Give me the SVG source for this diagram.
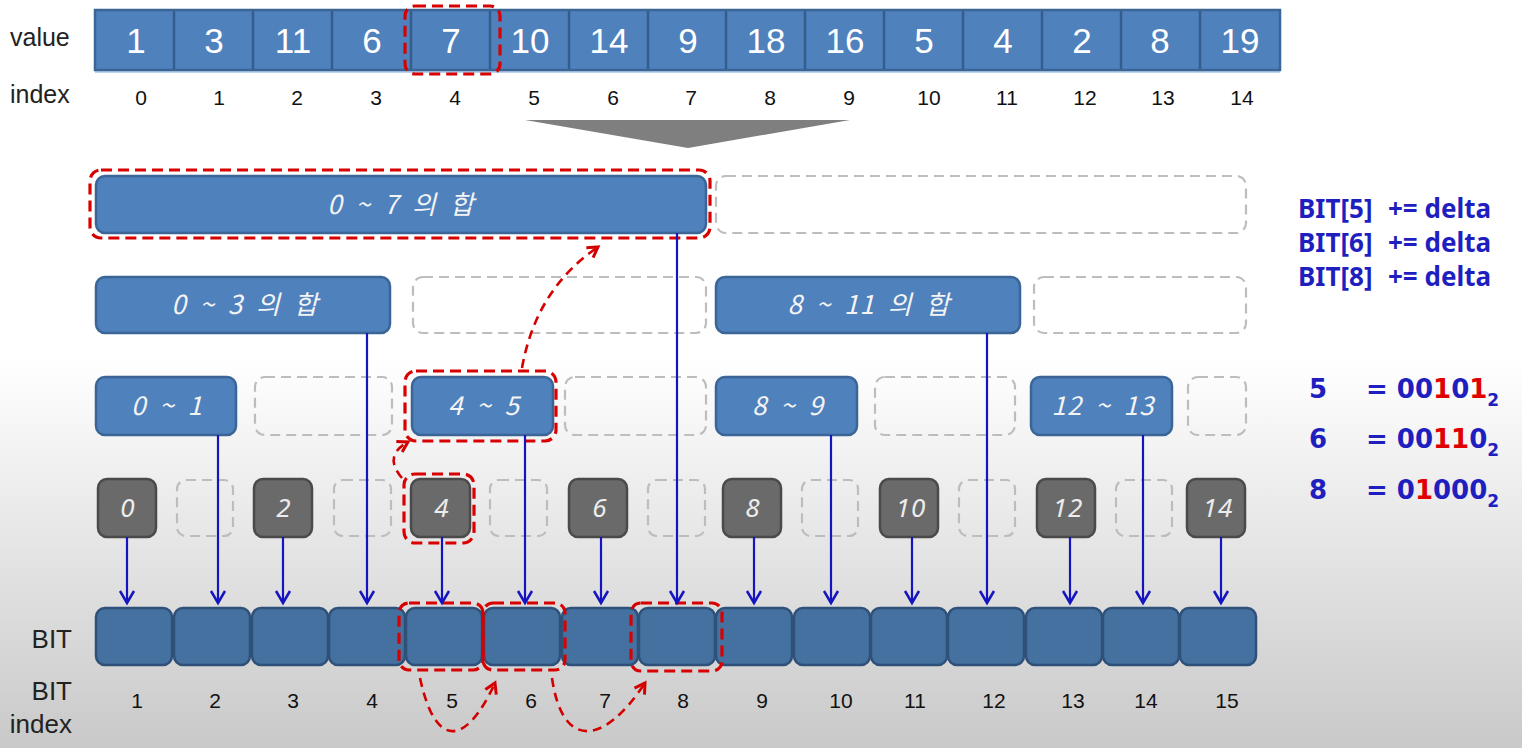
<svg xmlns="http://www.w3.org/2000/svg" width="1522" height="748" viewBox="0 0 1522 748">
<defs>
<linearGradient id="bg" x1="0" y1="0" x2="0" y2="1">
<stop offset="0" stop-color="#ffffff"/>
<stop offset="0.48" stop-color="#ffffff"/>
<stop offset="1" stop-color="#c9c9c9"/>
</linearGradient>
<marker id="ab" markerUnits="userSpaceOnUse" markerWidth="30" markerHeight="30" viewBox="-15 -15 30 30" refX="0" refY="0" orient="auto">
<path d="M-12,-7 L0,0 L-12,7" fill="none" stroke="#1414c0" stroke-width="2.5"/>
</marker>
<marker id="ar" markerUnits="userSpaceOnUse" markerWidth="30" markerHeight="30" viewBox="-15 -15 30 30" refX="0" refY="0" orient="auto">
<path d="M-10,-6 L0,0 L-10,6" fill="none" stroke="#d40000" stroke-width="3"/>
</marker>
<style>
.lbl{font-family:"Liberation Sans",Arial,sans-serif;fill:#222;}
.cell{fill:#4f81bd;stroke:#3a6596;stroke-width:2.5;}
.val{font-family:"Liberation Sans",Arial,sans-serif;font-size:35px;fill:#ffffff;text-anchor:middle;}
.idx{font-family:"Liberation Sans",Arial,sans-serif;font-size:21px;fill:#111;text-anchor:middle;}
.bx{fill:#4f81bd;stroke:#3a6596;stroke-width:2.5;}
.gn{fill:#6a6a6a;stroke:#4a4a4a;stroke-width:2.5;}
.dg{fill:none;stroke:#bdbdbd;stroke-width:2.2;stroke-dasharray:10 6;}
.rd{fill:none;stroke:#d80000;stroke-width:3.2;stroke-dasharray:11 6;}
.bt{font-family:"Noto Sans CJK KR","Noto Sans",sans-serif;font-style:italic;font-size:26px;letter-spacing:1px;word-spacing:6px;fill:#f4f4f4;text-anchor:middle;}
.gt{font-family:"Noto Sans","Noto Sans CJK KR",sans-serif;font-style:italic;font-size:26px;letter-spacing:1px;fill:#ececec;text-anchor:middle;}
.bit{fill:#44719f;stroke:#2f5078;stroke-width:2.5;}
.con{stroke:#1414c0;stroke-width:2.2;fill:none;marker-end:url(#ab);}
.rc{stroke:#d40000;stroke-width:2.6;fill:none;stroke-dasharray:9 6;marker-end:url(#ar);}
.rt{font-family:"Noto Sans","DejaVu Sans",sans-serif;font-weight:bold;fill:#1f1fbf;}
.rb{font-family:"DejaVu Sans",sans-serif;font-weight:bold;fill:#1f1fbf;}
.red{fill:#e00000;}
</style>
</defs>
<rect x="0" y="0" width="1522" height="748" fill="url(#bg)"/>

<g id="labels">
<text class="lbl" x="10" y="46" font-size="25">value</text>
<text class="lbl" x="10" y="103" font-size="25">index</text>
<text class="lbl" x="72" y="648" font-size="26" text-anchor="end">BIT</text>
<text class="lbl" x="72" y="700" font-size="26" text-anchor="end">BIT</text>
<text class="lbl" x="72" y="733" font-size="26" text-anchor="end">index</text>
</g>

<g id="value-array">
<rect x="95" y="70" width="1185" height="3" fill="#bcd3ee"/>
<rect class="cell" x="95" y="10" width="1185" height="60"/>
<g stroke="#345d8c" stroke-width="2.5">
<line x1="174" y1="11" x2="174" y2="69"/><line x1="253" y1="11" x2="253" y2="69"/><line x1="332" y1="11" x2="332" y2="69"/><line x1="411" y1="11" x2="411" y2="69"/><line x1="490" y1="11" x2="490" y2="69"/><line x1="569" y1="11" x2="569" y2="69"/><line x1="648" y1="11" x2="648" y2="69"/><line x1="726" y1="11" x2="726" y2="69"/><line x1="805" y1="11" x2="805" y2="69"/><line x1="884" y1="11" x2="884" y2="69"/><line x1="963" y1="11" x2="963" y2="69"/><line x1="1042" y1="11" x2="1042" y2="69"/><line x1="1121" y1="11" x2="1121" y2="69"/><line x1="1200" y1="11" x2="1200" y2="69"/>
</g>
<text class="val" x="136" y="53">1</text>
<text class="val" x="214" y="53">3</text>
<text class="val" x="293" y="53">11</text>
<text class="val" x="372" y="53">6</text>
<text class="val" x="451" y="53">7</text>
<text class="val" x="530" y="53">10</text>
<text class="val" x="609" y="53">14</text>
<text class="val" x="688" y="53">9</text>
<text class="val" x="766" y="53">18</text>
<text class="val" x="845" y="53">16</text>
<text class="val" x="924" y="53">5</text>
<text class="val" x="1003" y="53">4</text>
<text class="val" x="1082" y="53">2</text>
<text class="val" x="1160" y="53">8</text>
<text class="val" x="1240" y="53">19</text>
<rect class="rd" x="405" y="6" width="95" height="68" rx="10"/>
</g>

<g id="index-row">
<text class="idx" x="141" y="105">0</text>
<text class="idx" x="219" y="105">1</text>
<text class="idx" x="297" y="105">2</text>
<text class="idx" x="376" y="105">3</text>
<text class="idx" x="455" y="105">4</text>
<text class="idx" x="534" y="105">5</text>
<text class="idx" x="613" y="105">6</text>
<text class="idx" x="691" y="105">7</text>
<text class="idx" x="770" y="105">8</text>
<text class="idx" x="849" y="105">9</text>
<text class="idx" x="929" y="105">10</text>
<text class="idx" x="1007" y="105">11</text>
<text class="idx" x="1085" y="105">12</text>
<text class="idx" x="1163" y="105">13</text>
<text class="idx" x="1242" y="105">14</text>
</g>

<polygon id="down-arrow" points="525,120 850,120 688,148" fill="#7f7f7f"/>

<g id="n-0-7">
<rect class="bx" x="96" y="176" width="610" height="57" rx="9"/>
<text class="bt" x="401" y="214">0 ~ 7 의 합</text>
<rect class="rd" x="90" y="170" width="620" height="68" rx="11"/>
</g>
<rect id="e-8-15" class="dg" x="716" y="176" width="530" height="57" rx="10"/>

<g id="n-0-3">
<rect class="bx" x="96" y="277" width="294" height="56" rx="9"/>
<text class="bt" x="245" y="314">0 ~ 3 의 합</text>
</g>
<rect id="e-4-7" class="dg" x="413" y="277" width="293" height="56" rx="10"/>
<g id="n-8-11">
<rect class="bx" x="716" y="277" width="304" height="56" rx="9"/>
<text class="bt" x="869" y="314">8 ~ 11 의 합</text>
</g>
<rect id="e-12-15" class="dg" x="1034" y="277" width="212" height="56" rx="10"/>

<g id="n-0-1"><rect class="bx" x="96" y="377" width="140" height="58" rx="9"/><text class="bt" x="167" y="415">0 ~ 1</text></g>
<rect id="e-2-3" class="dg" x="255" y="377" width="137" height="58" rx="10"/>
<g id="n-4-5"><rect class="bx" x="412" y="377" width="141" height="58" rx="9"/><text class="bt" x="484" y="415">4 ~ 5</text>
<rect class="rd" x="405" y="371" width="151" height="70" rx="11"/></g>
<rect id="e-6-7" class="dg" x="565" y="377" width="141" height="58" rx="10"/>
<g id="n-8-9"><rect class="bx" x="716" y="377" width="141" height="58" rx="9"/><text class="bt" x="788" y="415">8 ~ 9</text></g>
<rect id="e-10-11" class="dg" x="875" y="377" width="140" height="58" rx="10"/>
<g id="n-12-13"><rect class="bx" x="1031" y="377" width="141" height="58" rx="9"/><text class="bt" x="1103" y="415">12 ~ 13</text></g>
<rect id="e-14-15" class="dg" x="1188" y="377" width="58" height="58" rx="10"/>

<g id="n0"><rect class="gn" x="98" y="479" width="58" height="58" rx="9"/><text class="gt" x="128" y="517">0</text></g>
<rect id="e1" class="dg" x="177" y="480" width="56" height="56" rx="9"/>
<g id="n2"><rect class="gn" x="254" y="479" width="58" height="58" rx="9"/><text class="gt" x="284" y="517">2</text></g>
<rect id="e3" class="dg" x="334" y="480" width="57" height="56" rx="9"/>
<g id="n4"><rect class="gn" x="411" y="479" width="59" height="58" rx="9"/><text class="gt" x="442" y="517">4</text>
<rect class="rd" x="404" y="474" width="70" height="69" rx="11"/></g>
<rect id="e5" class="dg" x="490" y="480" width="57" height="56" rx="9"/>
<g id="n6"><rect class="gn" x="569" y="479" width="58" height="58" rx="9"/><text class="gt" x="600" y="517">6</text></g>
<rect id="e7" class="dg" x="648" y="480" width="57" height="56" rx="9"/>
<g id="n8"><rect class="gn" x="723" y="479" width="58" height="58" rx="9"/><text class="gt" x="753" y="517">8</text></g>
<rect id="e9" class="dg" x="802" y="480" width="56" height="56" rx="9"/>
<g id="n10"><rect class="gn" x="880" y="479" width="58" height="58" rx="9"/><text class="gt" x="911" y="517">10</text></g>
<rect id="e11" class="dg" x="959" y="480" width="56" height="56" rx="9"/>
<g id="n12"><rect class="gn" x="1037" y="479" width="58" height="58" rx="9"/><text class="gt" x="1068" y="517">12</text></g>
<rect id="e13" class="dg" x="1116" y="480" width="56" height="56" rx="9"/>
<g id="n14"><rect class="gn" x="1187" y="479" width="58" height="58" rx="9"/><text class="gt" x="1218" y="517">14</text></g>

<g id="bit-array">
<rect class="bit" x="96" y="608" width="76" height="57" rx="9"/>
<rect class="bit" x="174" y="608" width="76" height="57" rx="9"/>
<rect class="bit" x="252" y="608" width="76" height="57" rx="9"/>
<rect class="bit" x="329" y="608" width="76" height="57" rx="9"/>
<rect class="bit" x="406" y="608" width="76" height="57" rx="9"/>
<rect class="bit" x="484" y="608" width="76" height="57" rx="9"/>
<rect class="bit" x="562" y="608" width="76" height="57" rx="9"/>
<rect class="bit" x="639" y="608" width="76" height="57" rx="9"/>
<rect class="bit" x="716" y="608" width="76" height="57" rx="9"/>
<rect class="bit" x="794" y="608" width="76" height="57" rx="9"/>
<rect class="bit" x="871" y="608" width="76" height="57" rx="9"/>
<rect class="bit" x="948" y="608" width="76" height="57" rx="9"/>
<rect class="bit" x="1026" y="608" width="76" height="57" rx="9"/>
<rect class="bit" x="1103" y="608" width="76" height="57" rx="9"/>
<rect class="bit" x="1180" y="608" width="76" height="57" rx="9"/>
<rect class="rd" x="399" y="603" width="84" height="67" rx="10"/>
<rect class="rd" x="483" y="603" width="82" height="67" rx="10"/>
<rect class="rd" x="631" y="603" width="91" height="68" rx="10"/>
</g>

<g id="bit-index">
<text class="idx" x="137" y="708" font-size="22">1</text>
<text class="idx" x="215" y="708">2</text>
<text class="idx" x="293" y="708">3</text>
<text class="idx" x="372" y="708">4</text>
<text class="idx" x="452" y="708">5</text>
<text class="idx" x="531" y="708">6</text>
<text class="idx" x="605" y="708">7</text>
<text class="idx" x="683" y="708">8</text>
<text class="idx" x="762" y="708">9</text>
<text class="idx" x="841" y="708">10</text>
<text class="idx" x="915" y="708">11</text>
<text class="idx" x="994" y="708">12</text>
<text class="idx" x="1073" y="708">13</text>
<text class="idx" x="1146" y="708">14</text>
<text class="idx" x="1227" y="708">15</text>
</g>

<g id="connectors">
<line class="con" x1="127" y1="537" x2="127" y2="603"/>
<line class="con" x1="218" y1="435" x2="218" y2="603"/>
<line class="con" x1="283" y1="537" x2="283" y2="603"/>
<line class="con" x1="367" y1="333" x2="367" y2="603"/>
<line class="con" x1="442" y1="537" x2="442" y2="603"/>
<line class="con" x1="525" y1="435" x2="525" y2="603"/>
<line class="con" x1="601" y1="537" x2="601" y2="603"/>
<line class="con" x1="677" y1="233" x2="677" y2="603"/>
<line class="con" x1="754" y1="537" x2="754" y2="603"/>
<line class="con" x1="831" y1="435" x2="831" y2="603"/>
<line class="con" x1="912" y1="537" x2="912" y2="603"/>
<line class="con" x1="987" y1="333" x2="987" y2="603"/>
<line class="con" x1="1070" y1="537" x2="1070" y2="603"/>
<line class="con" x1="1143" y1="435" x2="1143" y2="603"/>
<line class="con" x1="1221" y1="537" x2="1221" y2="603"/>
<path class="rc" d="M402 478 C390 464 390 452 408 442"/>
<path class="rc" d="M522 368 Q536 289 598 247"/>
<path class="rc" d="M420 678 C435 748 465 748 495 683"/>
<path class="rc" d="M552 678 C562 748 602 748 645 683"/>
</g>

<g id="notes">
<text class="rt" x="1298" y="218" font-size="26">BIT[5]</text><text class="rt" x="1388" y="218" font-size="26">+= delta</text>
<text class="rt" x="1298" y="252" font-size="26">BIT[6]</text><text class="rt" x="1388" y="252" font-size="26">+= delta</text>
<text class="rt" x="1298" y="286" font-size="26">BIT[8]</text><text class="rt" x="1388" y="286" font-size="26">+= delta</text>
<text class="rb" x="1309" y="398" font-size="26">5</text>
<text class="rb" x="1366" y="398" font-size="26">= 00<tspan class="red">1</tspan>0<tspan class="red">1</tspan><tspan font-size="17" dy="8">2</tspan></text>
<text class="rb" x="1309" y="448" font-size="26">6</text>
<text class="rb" x="1366" y="448" font-size="26">= 00<tspan class="red">11</tspan>0<tspan font-size="17" dy="8">2</tspan></text>
<text class="rb" x="1309" y="499" font-size="26">8</text>
<text class="rb" x="1366" y="499" font-size="26">= 0<tspan class="red">1</tspan>000<tspan font-size="17" dy="8">2</tspan></text>
</g>
</svg>
